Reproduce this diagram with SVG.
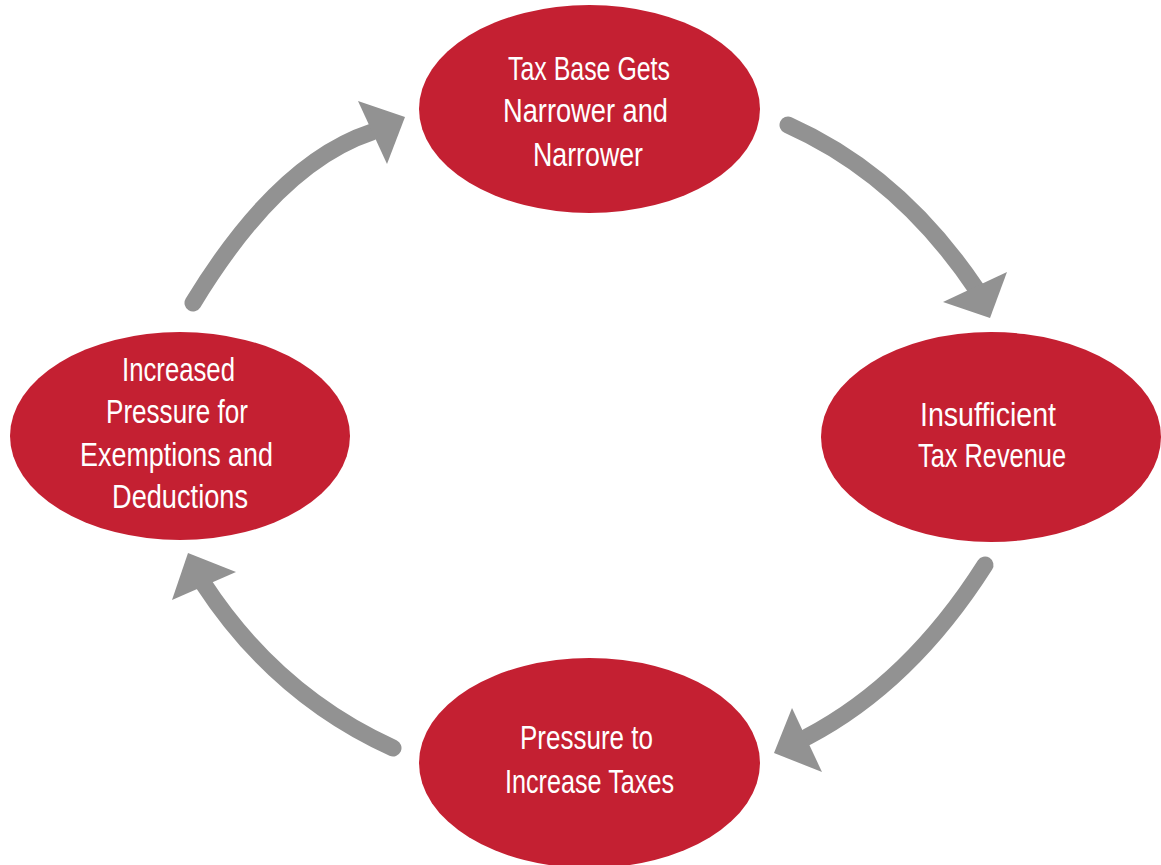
<svg xmlns="http://www.w3.org/2000/svg" width="1161" height="865" viewBox="0 0 1161 865">
<style>
.node ellipse{fill:#C42032;}
.node text{fill:#ffffff;font-family:"Liberation Sans",Arial,sans-serif;font-size:34px;}
.conn path{fill:none;stroke:#929292;stroke-width:17;stroke-linecap:round;}
.conn polygon{fill:#929292;}
</style>
<rect width="1161" height="865" fill="#ffffff"/>
<g id="connectors" class="conn">
<path d="M788,125 Q900,175 977,290"/>
<polygon points="990,318 943,302 1007,272"/>
<path d="M985,565 Q910,683 807,737"/>
<polygon points="774,753 792,708 822,772"/>
<path d="M393,748 Q276,695 203,583"/>
<polygon points="188,553 172,600 236,572"/>
<path d="M193,303 Q278,163 372,132"/>
<polygon points="405,117 358,101 387,164"/>
</g>
<g id="node-top" class="node">
<ellipse cx="589.5" cy="109" rx="170.5" ry="104"/>
<text x="508" y="80" textLength="162" lengthAdjust="spacingAndGlyphs">Tax Base Gets</text>
<text x="503" y="122" textLength="165" lengthAdjust="spacingAndGlyphs">Narrower and</text>
<text x="533" y="166" textLength="110" lengthAdjust="spacingAndGlyphs">Narrower</text>
</g>
<g id="node-right" class="node">
<ellipse cx="991" cy="437" rx="170" ry="105"/>
<text x="920" y="426" textLength="136" lengthAdjust="spacingAndGlyphs">Insufficient</text>
<text x="918" y="467" textLength="148" lengthAdjust="spacingAndGlyphs">Tax Revenue</text>
</g>
<g id="node-bottom" class="node">
<ellipse cx="589.5" cy="763" rx="170.5" ry="105"/>
<text x="520" y="749" textLength="133" lengthAdjust="spacingAndGlyphs">Pressure to</text>
<text x="505" y="793" textLength="169" lengthAdjust="spacingAndGlyphs">Increase Taxes</text>
</g>
<g id="node-left" class="node">
<ellipse cx="180" cy="436" rx="170" ry="104"/>
<text x="122" y="381" textLength="113" lengthAdjust="spacingAndGlyphs">Increased</text>
<text x="106" y="423" textLength="142" lengthAdjust="spacingAndGlyphs">Pressure for</text>
<text x="80" y="466" textLength="193" lengthAdjust="spacingAndGlyphs">Exemptions and</text>
<text x="112" y="508" textLength="136" lengthAdjust="spacingAndGlyphs">Deductions</text>
</g>
</svg>
